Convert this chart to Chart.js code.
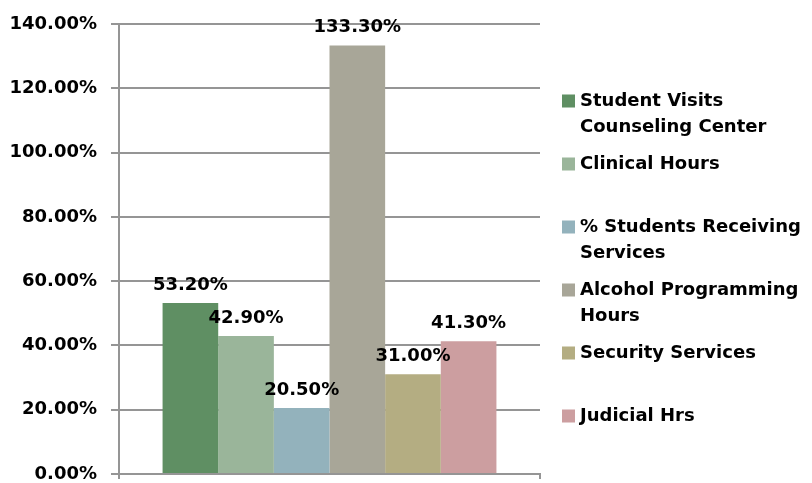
<!DOCTYPE html>
<html>
<head>
<meta charset="utf-8">
<script src="https://cdn.jsdelivr.net/npm/chart.js@4.4.0/dist/chart.umd.min.js"></script>
<style>
  html, body { margin: 0; padding: 0; background: #fff; }
  #wrap { width: 812px; height: 483px; }
</style>
</head>
<body>
<div id="wrap"><canvas id="c" width="812" height="483"></canvas></div>
<script>
// series names (split in lines as in the legend) and their values in %
const seriesNames = [
    ['Student Visits', 'Counseling Center'],
    ['Clinical Hours'],
    ['% Students Receiving', 'Services'],
    ['Alcohol Programming', 'Hours'],
    ['Security Services'],
    ['Judicial Hrs']
];
const seriesValues = [53.2, 42.9, 20.5, 133.3, 31.0, 41.3];
const seriesColors = ['#5f8f63', '#9ab59a', '#93b2bc', '#a8a698', '#b4ad82', '#cc9ea0'];
const categories = [''];
const yTicks = [0, 20, 40, 60, 80, 100, 120, 140];

const FONT = '"DejaVu Sans", sans-serif';
const gridColor = '#959595';

// value labels above each bar
const barLabels = {
    id: 'barLabels',
    afterDatasetsDraw (chart) {
        const ctx = chart.ctx;
        ctx.save();
        ctx.font = 'bold 18px ' + FONT;
        ctx.fillStyle = '#000';
        ctx.textAlign = 'center';
        ctx.textBaseline = 'middle';
        chart.data.datasets.forEach((ds, i) => {
            const bar = chart.getDatasetMeta(i).data[0];
            ctx.fillText(ds.data[0].toFixed(2) + '%', bar.x, bar.y - 18);
        });
        ctx.restore();
    }
};

// legend on the right, entries evenly spaced like the original
const sideLegend = {
    id: 'sideLegend',
    afterDraw (chart) {
        const ctx = chart.ctx;
        const boxX = 562, textX = 580, startY = 101, step = 63, lineH = 26, box = 13;
        ctx.save();
        ctx.font = 'bold 18px ' + FONT;
        ctx.textBaseline = 'middle';
        ctx.textAlign = 'left';
        chart.data.datasets.forEach((ds, i) => {
            const y = startY + i * step;
            ctx.fillStyle = ds.backgroundColor;
            ctx.fillRect(boxX, y - box / 2, box, box);
            ctx.fillStyle = '#000';
            ds.label.forEach((line, j) => ctx.fillText(line, textX, y + j * lineH));
        });
        ctx.restore();
    }
};

new Chart(document.getElementById('c'), {
    type: 'bar',
    data: {
        labels: categories,
        datasets: seriesNames.map((name, i) => ({
            label: name,
            data: [seriesValues[i]],
            backgroundColor: seriesColors[i],
            categoryPercentage: 0.793,
            barPercentage: 1.0
        }))
    },
    options: {
        responsive: false,
        animation: false,
        layout: { padding: { top: 24, right: 272, left: 0, bottom: 0 } },
        plugins: {
            legend: { display: false },
            tooltip: { enabled: false }
        },
        scales: {
            x: {
                ticks: { display: false },
                grid: { display: true, drawOnChartArea: false, color: gridColor, lineWidth: 2, tickLength: 5 },
                border: { display: true, color: gridColor, width: 2 },
                afterFit (scale) { scale.height = 9; }
            },
            y: {
                min: 0,
                max: 140,
                afterBuildTicks (scale) { scale.ticks = yTicks.map(v => ({ value: v })); },
                ticks: {
                    padding: 14,
                    color: '#000',
                    font: { family: FONT, size: 18, weight: 'bold' },
                    callback: v => v.toFixed(2) + '%'
                },
                grid: { color: gridColor, lineWidth: 2, tickLength: 8 },
                border: { display: true, color: gridColor, width: 2 },
                afterFit (scale) {
                    scale.width = 119;
                    scale.paddingTop = 0;
                    scale.paddingBottom = 0;
                }
            }
        }
    },
    plugins: [barLabels, sideLegend]
});
</script>
</body>
</html>
